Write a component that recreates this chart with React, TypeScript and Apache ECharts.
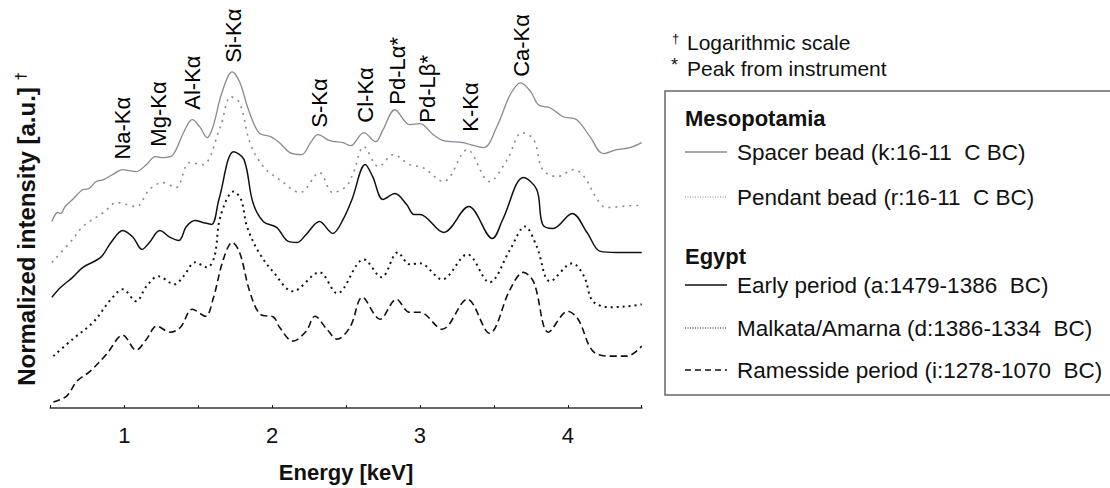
import React, { useEffect, useRef } from "react";
import * as echarts from "echarts";

// Energy axis (keV)
const energyMin = 0.5;
const energyMax = 4.5;
const energyStep = 0.5;
const energyTickLabels = [1, 2, 3, 4];

// Stacked XRF spectra, [energy keV, normalized intensity (offset, a.u.)]
const spacerBead: [number, number][] = [
  [0.51, 1.87], [0.55, 1.96], [0.57, 1.95], [0.6, 2.02], [0.65, 2.09], [0.72, 2.19], [0.76, 2.2],
  [0.81, 2.27], [0.86, 2.29], [0.92, 2.34], [0.99, 2.39], [1.03, 2.38], [1.08, 2.37], [1.15, 2.44],
  [1.21, 2.52], [1.26, 2.51], [1.33, 2.54], [1.4, 2.76], [1.46, 2.89], [1.51, 2.82], [1.56, 2.71],
  [1.6, 2.82], [1.66, 3.16], [1.73, 3.37], [1.78, 3.27], [1.84, 2.99], [1.91, 2.76], [1.99, 2.72],
  [2.05, 2.66], [2.12, 2.56], [2.2, 2.54], [2.26, 2.66], [2.31, 2.74], [2.39, 2.68], [2.48, 2.66],
  [2.53, 2.63], [2.62, 2.76], [2.7, 2.67], [2.75, 2.79], [2.83, 2.99], [2.93, 2.84], [3.0, 2.85],
  [3.09, 2.74], [3.16, 2.68], [3.29, 2.66], [3.43, 2.61], [3.52, 2.82], [3.61, 3.14], [3.68, 3.26],
  [3.75, 3.17], [3.8, 3.04], [3.88, 3.01], [3.97, 2.92], [4.06, 2.89], [4.15, 2.72], [4.24, 2.55],
  [4.33, 2.59], [4.42, 2.61], [4.5, 2.66],
];

const pendantBead: [number, number][] = [
  [0.51, 1.46], [0.65, 1.69], [0.72, 1.82], [0.86, 1.96], [0.95, 2.06], [1.08, 2.02], [1.17, 2.19],
  [1.26, 2.26], [1.35, 2.21], [1.44, 2.46], [1.53, 2.44], [1.65, 2.82], [1.72, 3.12], [1.78, 3.06],
  [1.85, 2.66], [1.94, 2.42], [2.05, 2.29], [2.19, 2.16], [2.32, 2.36], [2.41, 2.16], [2.5, 2.22],
  [2.55, 2.36], [2.62, 2.62], [2.72, 2.42], [2.82, 2.54], [2.93, 2.44], [3.02, 2.41], [3.16, 2.27],
  [3.32, 2.59], [3.47, 2.27], [3.59, 2.49], [3.69, 2.76], [3.77, 2.69], [3.83, 2.39], [3.93, 2.32],
  [4.04, 2.39], [4.11, 2.32], [4.2, 2.09], [4.26, 2.01], [4.47, 2.03], [4.5, 2.03],
];

const earlyPeriod: [number, number][] = [
  [0.51, 1.11], [0.57, 1.21], [0.65, 1.31], [0.72, 1.41], [0.84, 1.51], [0.91, 1.66], [0.99, 1.78],
  [1.06, 1.71], [1.12, 1.59], [1.17, 1.66], [1.24, 1.78], [1.31, 1.71], [1.37, 1.68], [1.42, 1.82],
  [1.48, 1.88], [1.53, 1.86], [1.59, 1.84], [1.64, 2.09], [1.74, 2.57], [1.81, 2.49], [1.87, 2.06],
  [1.94, 1.87], [2.03, 1.81], [2.11, 1.67], [2.17, 1.66], [2.23, 1.74], [2.32, 1.87], [2.41, 1.75],
  [2.48, 1.89], [2.54, 2.09], [2.63, 2.44], [2.68, 2.32], [2.75, 2.09], [2.83, 2.15], [2.91, 2.04],
  [2.96, 1.94], [3.0, 1.94], [3.16, 1.76], [3.33, 2.02], [3.49, 1.7], [3.56, 1.89], [3.7, 2.31],
  [3.79, 2.19], [3.83, 1.84], [3.9, 1.8], [4.03, 1.95], [4.13, 1.76], [4.22, 1.57], [4.33, 1.56],
  [4.5, 1.56],
];

const malkataAmarna: [number, number][] = [
  [0.52, 0.52], [0.65, 0.69], [0.79, 0.86], [0.91, 1.09], [0.99, 1.19], [1.08, 1.07], [1.15, 1.22],
  [1.23, 1.32], [1.34, 1.24], [1.4, 1.32], [1.48, 1.46], [1.56, 1.41], [1.61, 1.52], [1.65, 1.92],
  [1.74, 2.17], [1.79, 2.09], [1.83, 1.82], [1.91, 1.56], [2.01, 1.36], [2.14, 1.17], [2.32, 1.36],
  [2.44, 1.15], [2.62, 1.49], [2.74, 1.31], [2.85, 1.56], [2.93, 1.44], [3.0, 1.45], [3.15, 1.29],
  [3.32, 1.54], [3.47, 1.26], [3.61, 1.59], [3.71, 1.82], [3.79, 1.62], [3.88, 1.27], [4.03, 1.45],
  [4.11, 1.32], [4.17, 1.07], [4.29, 1.01], [4.47, 1.03], [4.5, 1.04],
];

const ramessidePeriod: [number, number][] = [
  [0.52, 0.06], [0.61, 0.12], [0.68, 0.27], [0.77, 0.37], [0.88, 0.54], [0.99, 0.73], [1.08, 0.58],
  [1.15, 0.69], [1.22, 0.82], [1.31, 0.76], [1.38, 0.81], [1.46, 0.99], [1.55, 0.92], [1.6, 1.09],
  [1.67, 1.49], [1.73, 1.66], [1.78, 1.56], [1.85, 1.16], [1.92, 0.94], [2.01, 0.91], [2.05, 0.81],
  [2.14, 0.67], [2.23, 0.77], [2.29, 0.92], [2.37, 0.79], [2.44, 0.69], [2.53, 0.82], [2.61, 1.11],
  [2.73, 0.89], [2.84, 1.09], [2.93, 0.96], [3.0, 0.96], [3.15, 0.79], [3.32, 1.09], [3.47, 0.75],
  [3.61, 1.19], [3.7, 1.36], [3.77, 1.26], [3.87, 0.76], [4.0, 0.97], [4.07, 0.89], [4.17, 0.57],
  [4.29, 0.52], [4.4, 0.52], [4.5, 0.62],
];

// Emission line annotations: name, energy, height of label base
const peakNames = ["Na-Kα", "Mg-Kα", "Al-Kα", "Si-Kα", "S-Kα", "Cl-Kα", "Pd-Lα*", "Pd-Lβ*", "K-Kα", "Ca-Kα"];
const peakEnergies = [0.99, 1.23, 1.46, 1.74, 2.32, 2.63, 2.85, 3.05, 3.34, 3.69];
const peakLabelBase = [2.49, 2.62, 2.99, 3.46, 2.81, 2.86, 3.04, 2.86, 2.77, 3.32];

const FONT = '"Liberation Sans", Arial, Helvetica, sans-serif';
const GRAY = "#8a8a8a";
const BLACK = "#111111";

export default function App() {
  const ref = useRef<HTMLDivElement>(null);

  useEffect(() => {
    if (!ref.current) return;
    const chart = echarts.init(ref.current, undefined, { renderer: "svg" });

    const lineSeries = (name: string, data: [number, number][], color: string, width: number, type: any) => ({
      name,
      type: "line",
      data,
      smooth: 0.35,
      symbol: "none",
      silent: true,
      lineStyle: { color, width, type },
    });

    const legendRow = (y: number, text: string, color: string, width: number, dash: any) => [
      {
        type: "line",
        shape: { x1: 685, y1: y, x2: 727, y2: y },
        style: { stroke: color, lineWidth: width, lineDash: dash },
      },
      {
        type: "text",
        x: 737,
        y,
        style: { text, fill: BLACK, font: `22.5px ${FONT}`, verticalAlign: "middle" },
      },
    ];

    chart.setOption({
      animation: false,
      backgroundColor: "#ffffff",
      grid: { left: 50.4, right: 468.3, top: 9, bottom: 79 },
      xAxis: {
        type: "value",
        min: energyMin,
        max: energyMax,
        interval: energyStep,
        name: "Energy [keV]",
        nameLocation: "middle",
        nameGap: 53,
        nameTextStyle: { fontFamily: FONT, fontSize: 22, fontWeight: "bold", color: BLACK },
        axisLine: { lineStyle: { color: "#666666", width: 2 } },
        axisTick: { inside: true, length: 3, lineStyle: { color: "#222222", width: 1 } },
        axisLabel: {
          margin: 16,
          fontFamily: FONT,
          fontSize: 22,
          color: BLACK,
          formatter: (v: number) => (energyTickLabels.includes(v) ? String(v) : ""),
        },
        splitLine: { show: false },
      },
      yAxis: {
        type: "value",
        min: 0,
        max: 4,
        show: false,
      },
      series: [
        lineSeries("Spacer bead (k:16-11 C BC)", spacerBead, GRAY, 1.3, "solid"),
        lineSeries("Pendant bead (r:16-11 C BC)", pendantBead, GRAY, 1.6, [2, 5]),
        lineSeries("Early period (a:1479-1386 BC)", earlyPeriod, BLACK, 1.5, "solid"),
        lineSeries("Malkata/Amarna (d:1386-1334 BC)", malkataAmarna, BLACK, 2, [2, 4]),
        lineSeries("Ramesside period (i:1278-1070 BC)", ramessidePeriod, BLACK, 1.6, [7, 4]),
        {
          type: "scatter",
          silent: true,
          symbolSize: 0,
          itemStyle: { color: BLACK, opacity: 1 },
          data: peakNames.map((n, i) => ({ name: n, value: [peakEnergies[i], peakLabelBase[i]] })),
          label: {
            show: true,
            position: [0, 0],
            rotate: 90,
            align: "left",
            verticalAlign: "middle",
            formatter: (p: any) => p.name,
            fontFamily: FONT,
            fontSize: 22,
            color: "#000000",
            opacity: 1,
            textBorderWidth: 0,
            textBorderColor: "transparent",
          },
        },
      ],
      graphic: [
        {
          type: "text",
          x: 26,
          y: 229,
          rotation: Math.PI / 2,
          style: {
            text: "Normalized intensity [a.u.] {sup|†}",
            font: `bold 24px ${FONT}`,
            fill: BLACK,
            align: "center",
            verticalAlign: "middle",
            rich: { sup: { font: `bold 15px ${FONT}`, fill: BLACK, padding: [0, 0, 11, 0] } },
          },
        },
        { type: "text", x: 672, y: 38, style: { text: "†", font: `13px ${FONT}`, fill: BLACK, verticalAlign: "middle" } },
        { type: "text", x: 687, y: 42, style: { text: "Logarithmic scale", font: `21px ${FONT}`, fill: BLACK, verticalAlign: "middle" } },
        { type: "text", x: 671, y: 65, style: { text: "*", font: `18px ${FONT}`, fill: BLACK, verticalAlign: "middle" } },
        { type: "text", x: 687, y: 68, style: { text: "Peak from instrument", font: `21px ${FONT}`, fill: BLACK, verticalAlign: "middle" } },
        {
          type: "rect",
          shape: { x: 665, y: 91, width: 600, height: 304 },
          style: { fill: "none", stroke: "#666666", lineWidth: 1.5 },
        },
        { type: "text", x: 685, y: 118, style: { text: "Mesopotamia", font: `bold 22px ${FONT}`, fill: BLACK, verticalAlign: "middle" } },
        ...legendRow(152, "Spacer bead (k:16-11  C BC)", GRAY, 1.3, null),
        ...legendRow(197, "Pendant bead (r:16-11  C BC)", GRAY, 1.2, [1, 1.5]),
        { type: "text", x: 685, y: 256, style: { text: "Egypt", font: `bold 22px ${FONT}`, fill: BLACK, verticalAlign: "middle" } },
        ...legendRow(285, "Early period (a:1479-1386  BC)", BLACK, 1.3, null),
        ...legendRow(328, "Malkata/Amarna (d:1386-1334  BC)", BLACK, 1.2, [1, 1.5]),
        ...legendRow(370, "Ramesside period (i:1278-1070  BC)", BLACK, 1.3, [6, 4]),
      ],
    });

    return () => chart.dispose();
  }, []);

  return (
    <div
      ref={ref}
      style={{ position: "fixed", left: 0, top: 0, width: 1110, height: 488, background: "#fff" }}
    />
  );
}
